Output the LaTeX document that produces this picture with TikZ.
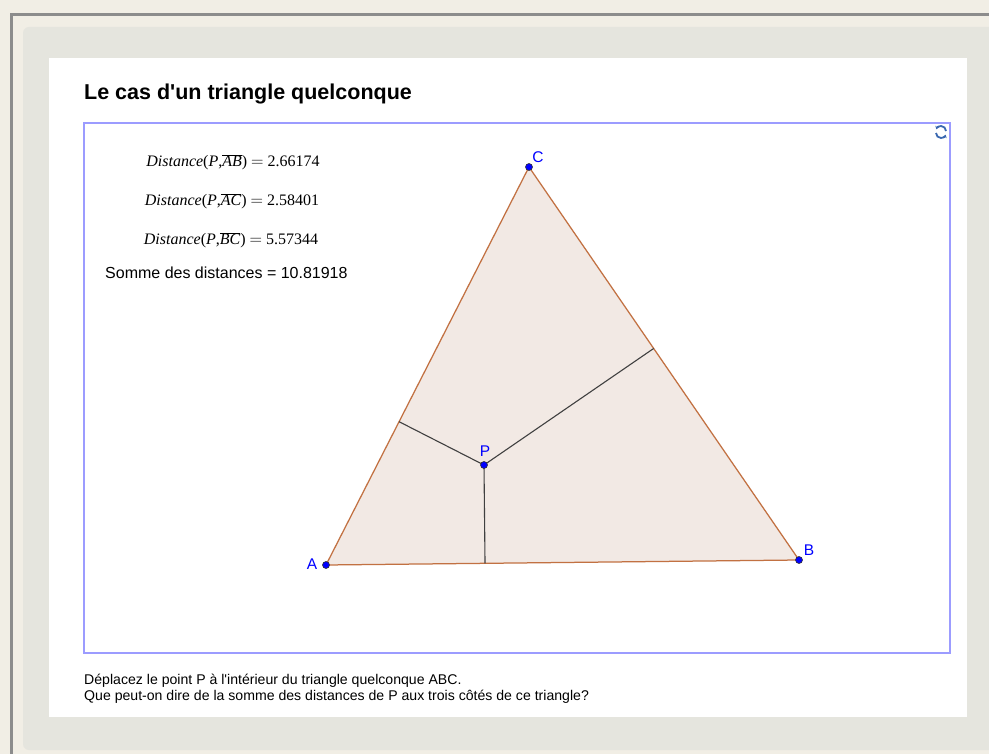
\documentclass[tikz,border=0pt]{standalone}
\usepackage{fontspec}
\setmainfont{Liberation Sans}
\newfontfamily\tnr{Liberation Serif}
\usetikzlibrary{calc,arrows.meta}
\definecolor{bgcream}{HTML}{F1EEE5}
\definecolor{panelgray}{HTML}{E5E5DE}
\definecolor{framegray}{HTML}{8C8C8C}
\definecolor{frameblue}{HTML}{9C9CFF}
\definecolor{trifill}{HTML}{F2E9E4}
\definecolor{triedge}{HTML}{C27142}
\definecolor{perpgray}{HTML}{404040}
\definecolor{ptblue}{HTML}{0000FF}
\definecolor{iconblue}{HTML}{3A68B0}
\tikzset{
  ptdot/.style={circle, fill=ptblue, draw=black!80, line width=0.6pt, inner sep=0pt, minimum size=7pt},
  ptlabel/.style={text=ptblue, font=\fontsize{15.5}{15.5}\selectfont, inner sep=0pt},
  formula/.style={anchor=base, inner sep=0pt, font=\tnr\fontsize{16}{16}\selectfont},
  bodytext/.style={anchor=base west, inner sep=0pt, font=\fontsize{14.1}{14.1}\selectfont},
  side/.style={draw=triedge, line width=1.25pt},
  perp/.style={draw=perpgray, line width=1.1pt},
  iconarc/.style={iconblue, line width=1.8pt, -{Stealth[length=3pt,width=4pt]}}
}
\begin{document}
\begin{tikzpicture}[x=1pt,y=-1pt]
\useasboundingbox (0,0) rectangle (989,754);
% background
\fill[bgcream] (0,0) rectangle (989,754);
\fill[framegray] (10,13) rectangle (989,16);
\fill[framegray] (10,13) rectangle (13,754);
\fill[panelgray, rounded corners=6pt] (23,27) rectangle (1010,750);
\fill[white] (49,58) rectangle (967,717);
\draw[frameblue, line width=1.3pt] (84,123) rectangle (950,653);

% title
\node[anchor=base west, inner sep=0pt, font=\bfseries\fontsize{21.5}{21.5}\selectfont] (title) at (84,100) {Le cas d\textquotesingle un triangle quelconque};

% geometry
\coordinate (a) at (326,565);
\coordinate (b) at (799,560);
\coordinate (c) at (529,167);
\coordinate (p) at (484,465);
\coordinate (fab) at ($(a)!(p)!(b)$);
\coordinate (fac) at ($(a)!(p)!(c)$);
\coordinate (fbc) at ($(b)!(p)!(c)$);
\fill[trifill] (a) -- (b) -- (c) -- cycle;
\draw[side] (a) -- (b) -- (c) -- cycle;
\draw[perp] (p) -- (fab);
\draw[perp] (p) -- (fac);
\draw[perp] (p) -- (fbc);
\node[ptdot] (A) at (a) {};
\node[ptdot] (B) at (b) {};
\node[ptdot] (C) at (c) {};
\node[ptdot] (P) at (p) {};
\node[ptlabel] (lA) at (312,564) {A};
\node[ptlabel] (lB) at (809,550) {B};
\node[ptlabel] (lC) at (538,157) {C};
\node[ptlabel] (lP) at (485,451) {P};

% formulas
\node[formula] (f1) at (233,167) {\textit{Distance}(\textit{P},$\overline{\hbox{\tnr\itshape AB}}$) $=$ 2.66174};
\node[formula] (f2) at (232,206) {\textit{Distance}(\textit{P},$\overline{\hbox{\tnr\itshape AC}}$) $=$ 2.58401};
\node[formula] (f3) at (231,245) {\textit{Distance}(\textit{P},$\overline{\hbox{\tnr\itshape BC}}$) $=$ 5.57344};
\node[anchor=base west, inner sep=0pt, font=\fontsize{16}{16}\selectfont] (somme) at (105,279) {Somme des distances = 10.81918};

% refresh icon
\coordinate (ic) at (941,132);
\draw[iconarc] ($(ic)+(-5,1)$) arc[start angle=180, end angle=20, x radius=5pt, y radius=-5pt];
\draw[iconarc] ($(ic)+(5,-1)$) arc[start angle=0, end angle=-160, x radius=5pt, y radius=-5pt];

% bottom text
\node[bodytext] (t1) at (84,684) {Déplacez le point P à l\textquotesingle intérieur du triangle quelconque ABC.};
\node[bodytext] (t2) at (84,700) {Que peut-on dire de la somme des distances de P aux trois côtés de ce triangle?};
\end{tikzpicture}
\end{document}
